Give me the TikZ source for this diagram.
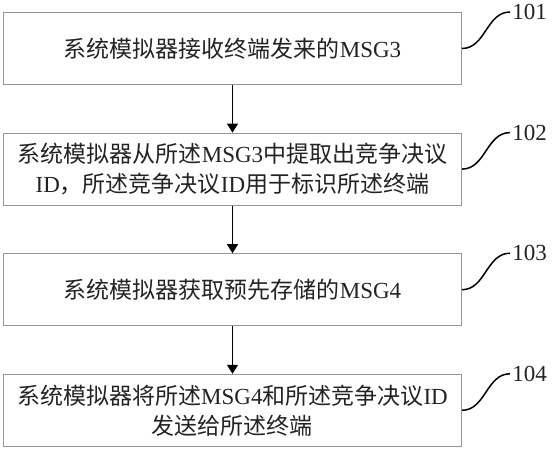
\documentclass[tikz,border=0pt]{standalone}
\usepackage{fontspec}
\setmainfont{Liberation Serif}
\newfontfamily\zhfont{Noto Sans CJK SC}
\newcommand{\zh}[1]{{\zhfont #1}}
\usetikzlibrary{arrows.meta, positioning}
\definecolor{boxgray}{RGB}{150,150,150}
\definecolor{txtgray}{RGB}{35,35,35}
\tikzset{
  stepbox/.style={rectangle, draw=boxgray, line width=0.5pt,
    minimum width=229pt, minimum height=36pt, align=center,
    inner sep=2pt, text=txtgray, font=\fontsize{11.5}{15}\selectfont},
  arr/.style={-{Triangle[length=4.5pt,width=5.5pt]}, line width=0.65pt},
  lead/.style={line width=0.75pt},
  lbl/.style={inner sep=1pt, text=txtgray, font=\fontsize{11.5}{14}\selectfont},
}

\begin{document}
\begin{tikzpicture}[x=0.5pt, y=-0.5pt]
  \useasboundingbox (0,0) rectangle (554,450);

  % ---- Steps ----
  \node[stepbox] (b1) at (232.5,48.5) {\zh{系统模拟器接收终端发来的}MSG3};
  \node[stepbox, below=23.8pt of b1] (b2)
       {\zh{系统模拟器从所述}MSG3\zh{中提取出竞争决议}\\
        ID\zh{，所述竞争决议}ID\zh{用于标识所述终端}};
  \node[stepbox, below=23.8pt of b2] (b3) {\zh{系统模拟器获取预先存储的}MSG4};
  \node[stepbox, below=23.8pt of b3] (b4)
       {\zh{系统模拟器将所述}MSG4\zh{和所述竞争决议}ID\\
        \zh{发送给所述终端}};

  % ---- Step numbers ----
  \node[lbl, right=24pt of b1.north east] (l1) {101};
  \node[lbl, right=24pt of b2.north east] (l2) {102};
  \node[lbl, right=24pt of b3.north east] (l3) {103};
  \node[lbl, right=24pt of b4.north east] (l4) {104};

  % ---- Arrows ----
  \draw[arr] (b1) -- (b2);
  \draw[arr] (b2) -- (b3);
  \draw[arr] (b3) -- (b4);

  \draw[lead] (b1.east) to[out=0, in=180] (l1.west);
  \draw[lead] (b2.east) to[out=0, in=180] (l2.west);
  \draw[lead] (b3.east) to[out=0, in=180] (l3.west);
  \draw[lead] (b4.east) to[out=0, in=180] (l4.west);
\end{tikzpicture}
\end{document}
